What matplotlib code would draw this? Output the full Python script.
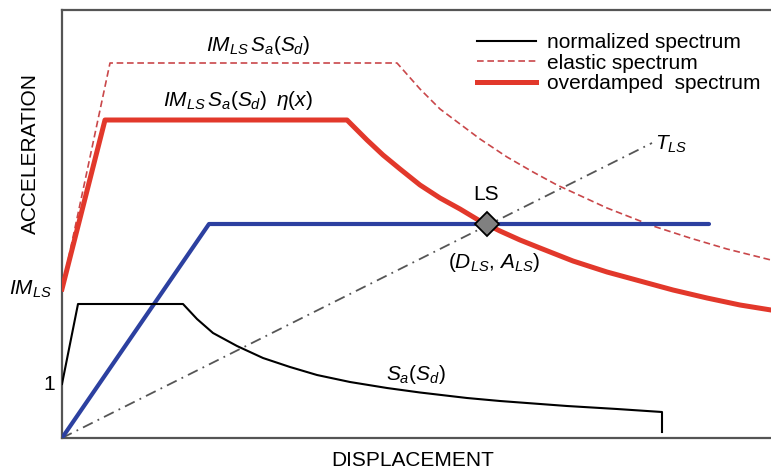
import matplotlib
matplotlib.use("Agg")
import matplotlib.pyplot as plt

plt.rcParams['font.family'] = ['Liberation Sans', 'DejaVu Sans']
plt.rcParams['mathtext.fontset'] = 'custom'
plt.rcParams['mathtext.rm'] = 'Liberation Sans'
plt.rcParams['mathtext.it'] = 'Liberation Sans:italic'
plt.rcParams['mathtext.bf'] = 'Liberation Sans:bold'

# ---- data (arbitrary displacement / acceleration units) ----
norm_d = [0, 16, 121, 135, 151, 175, 201, 228, 255, 288, 325, 358, 405, 438, 505, 555, 600, 600]
norm_a = [54, 134, 134, 119, 105, 92, 80, 71, 63, 56, 50, 45.5, 40, 37, 32, 29, 26, 6]

elastic_d = [0, 48, 335, 358, 378, 398, 418, 445, 471, 495, 545, 591, 628, 665, 709]
elastic_a = [149, 375, 375, 349, 329, 314, 299, 281, 266, 253, 230, 212, 200, 189, 178]

over_d = [0, 43, 285, 305, 321, 338, 358, 378, 398, 418, 438, 458, 478, 511, 545, 578, 611, 645, 678, 709]
over_a = [149, 318, 318, 298, 283, 269, 253, 240, 229, 217, 207, 198, 190, 177, 166, 157, 148, 140, 133, 128]

cap_d = [0, 147, 647]
cap_a = [0, 214, 214]

tls_d = [0, 590]
tls_a = [0, 295]

ls_point = (425, 214)
im_ls = 149
one_level = 54

fig = plt.figure(figsize=(7.71, 4.70), dpi=100)
W, H = 771, 470
ax = fig.add_axes([62 / W, (H - 438) / H, (771 - 62) / W, (438 - 10) / H])
ax.set_xlim(0, 709)
ax.set_ylim(0, 428)

red = '#e2382b'
blue = '#2c40a0'
dred = '#c9474a'
gray = '#555555'

ax.plot(tls_d, tls_a, color=gray, lw=1.3, ls=(0, (6, 3, 1, 3)), zorder=2)
ax.plot(elastic_d, elastic_a, color=dred, lw=1.2, ls=(0, (4, 2.2)), zorder=3,
        label='elastic spectrum')
ax.plot(cap_d, cap_a, color=blue, lw=3.0, zorder=3, solid_capstyle='round')
ax.plot(norm_d, norm_a, color='black', lw=1.5, zorder=4, label='normalized spectrum')
ax.plot(over_d, over_a, color=red, lw=3.6, zorder=4, label='overdamped  spectrum',
        solid_joinstyle='round')
ax.plot([ls_point[0]], [ls_point[1]], marker='D', ms=12, mfc='#808080', mec='black',
        mew=1.3, zorder=6, clip_on=False)

for s in ['left', 'bottom', 'top']:
    ax.spines[s].set_color(gray)
    ax.spines[s].set_linewidth(1.6)
ax.spines['right'].set_visible(False)
ax.set_xticks([])
ax.set_yticks([])

fs = 15
ax.text(196, 393, r'$IM_{LS}\,S_a(S_d)$', fontsize=fs, ha='center', va='center')
ax.text(176, 338, r'$IM_{LS}\,S_a(S_d)\;\;\eta(x)$', fontsize=fs, ha='center', va='center')
ax.text(354, 64, r'$S_a(S_d)$', fontsize=fs, ha='center', va='center')
ax.text(593, 294, r'$T_{LS}$', fontsize=fs, ha='left', va='center')
ax.text(424, 243, 'LS', fontsize=fs, ha='center', va='center')
ax.text(432, 175, r'$(D_{LS},\,A_{LS})$', fontsize=fs, ha='center', va='center')
ax.text(-10, im_ls, r'$IM_{LS}$', fontsize=fs, ha='right', va='center', clip_on=False)
ax.text(-7, one_level, '1', fontsize=fs, ha='right', va='center', clip_on=False)

ax.text(351 / 709, -23 / 428, 'DISPLACEMENT', fontsize=fs, ha='center', va='center',
        transform=ax.transAxes, clip_on=False)
ax.text(-32 / 709, (438 - 153) / 428, 'ACCELERATION', fontsize=fs, ha='center', va='center',
        rotation=90, transform=ax.transAxes, clip_on=False)

h, l = ax.get_legend_handles_labels()
order = [l.index('normalized spectrum'), l.index('elastic spectrum'), l.index('overdamped  spectrum')]
leg = ax.legend([h[i] for i in order], [l[i] for i in order], loc='upper left',
                bbox_to_anchor=((477 - 62) / 709, (438 - 33) / 428), frameon=False,
                fontsize=fs, handlelength=2.85, handletextpad=0.5, labelspacing=0.08,
                borderpad=0, borderaxespad=0)

fig.savefig('out.png', dpi=100)
